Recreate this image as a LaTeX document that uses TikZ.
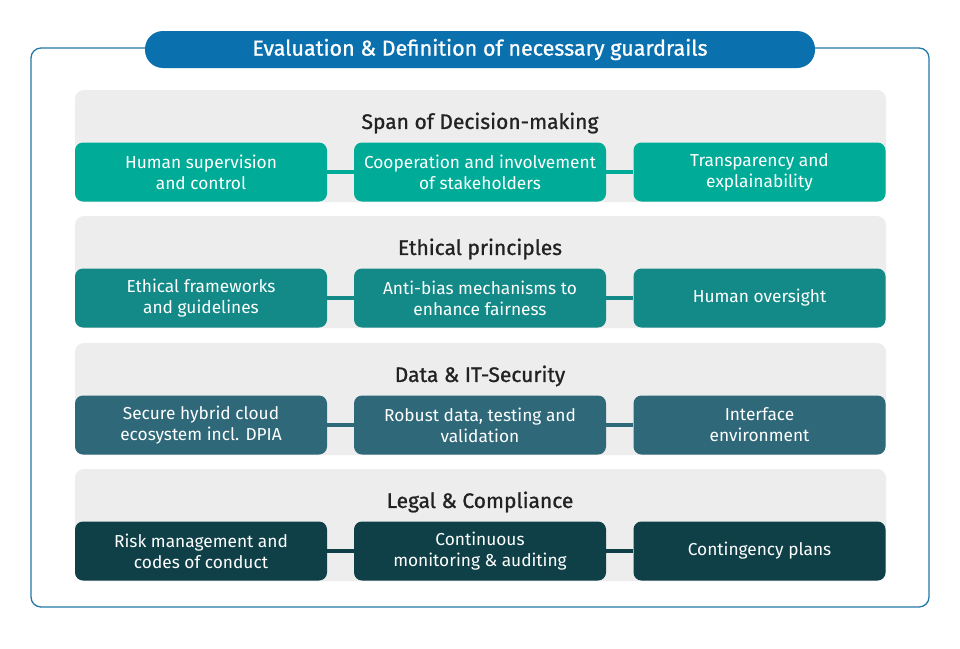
\documentclass[tikz,border=0pt]{standalone}
\usepackage{fontspec}
\setmainfont{Fira Sans}
\newfontfamily\medfont[FakeBold=1.0]{Fira Sans}
\definecolor{framecol}{HTML}{2479A8}
\definecolor{titlecol}{HTML}{0B70AE}
\definecolor{panelcol}{HTML}{EDEDEE}
\definecolor{rowA}{HTML}{00AC98}
\definecolor{rowB}{HTML}{138A88}
\definecolor{rowC}{HTML}{2E6879}
\definecolor{rowD}{HTML}{0F4048}
\definecolor{headcol}{HTML}{222222}
\tikzset{
  panel/.style={fill=panelcol, rounded corners=9pt, draw=none},
  item/.style={rounded corners=8pt, minimum width=252pt, minimum height=59pt, inner sep=0pt,
     text=white, align=center, font=\fontsize{17.3}{21}\selectfont},
  head/.style={text=headcol, font=\medfont\fontsize{21}{24}\selectfont, inner sep=0pt},
  link/.style={line width=4pt},
}
\begin{document}
\begin{tikzpicture}[x=1pt,y=-1pt]
\useasboundingbox (0,0) rectangle (960,648);
\fill[white] (0,0) rectangle (960,648);
% outer frame
\draw[framecol, line width=1.3pt, rounded corners=10pt] (31,48) rectangle (929,607);
% title
\node[fill=titlecol, rounded corners=18pt, minimum width=670pt, minimum height=37pt, inner sep=0pt,
  text=white, font=\medfont\fontsize{21.5}{24}\selectfont] (title) at (480,49.5)
  {Evaluation \& Definition of necessary guardrails};
% rows
\foreach \r/\y/\col/\hd/\ta/\tb/\tc in {
  1/90/rowA/{Span of Decision-making}/{Human supervision\\and control}/{Cooperation and involvement\\of stakeholders}/{Transparency and\\explainability},
  2/216/rowB/{Ethical principles}/{Ethical frameworks\\and guidelines}/{Anti-bias mechanisms to\\enhance fairness}/{Human oversight},
  3/343/rowC/{Data \& IT-Security}/{Secure hybrid cloud\\ecosystem incl. DPIA}/{Robust data, testing and\\validation}/{Interface\\environment},
  4/469/rowD/{Legal \& Compliance}/{Risk management and\\codes of conduct}/{Continuous\\monitoring \& auditing}/{Contingency plans}}{
  \fill[panel] (75,\y) rectangle (886,\y+112);
  \node[head] (h\r) at (480,\y+33) {\hd};
  \node[item, fill=\col] (a\r) at (201,\y+82) {\ta};
  \node[item, fill=\col] (b\r) at (480,\y+82) {\tb};
  \node[item, fill=\col] (c\r) at (759.5,\y+82) {\tc};
  \draw[link, \col] (a\r) -- (b\r);
  \draw[link, \col] (b\r) -- (c\r);
}
\end{tikzpicture}
\end{document}
